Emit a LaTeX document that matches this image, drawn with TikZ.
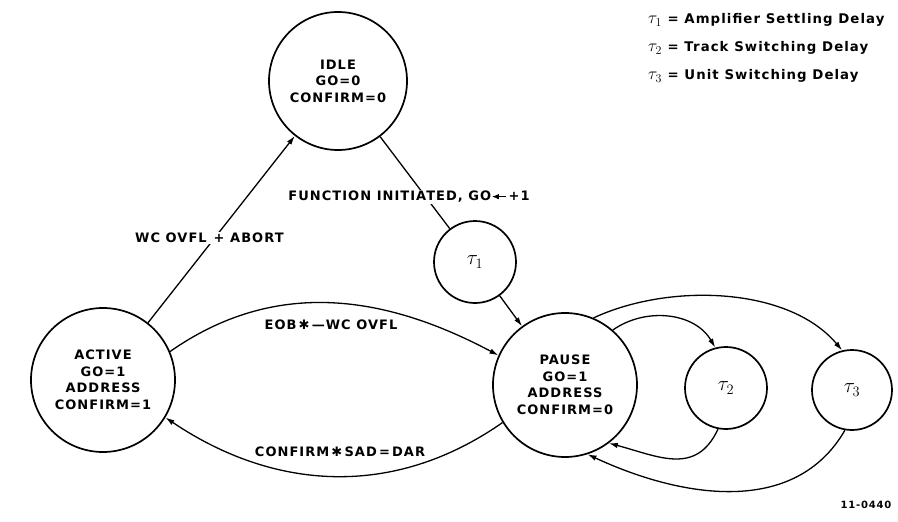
\documentclass[tikz,border=0pt]{standalone}
\usepackage{fontspec}
\usetikzlibrary{arrows.meta}
\newfontfamily\lettering{DejaVu Sans}[LetterSpace=8]
\newfontfamily\symfont{DejaVu Sans}
\newcommand\delaysym[1]{{\fontsize{17}{17}\selectfont$\tau_{#1}$}}

\tikzset{
  stnode/.style={circle, draw, line width=1.7pt, minimum size=#1, inner sep=0pt,
    align=center, font=\lettering\bfseries\fontsize{13}{16.5}\selectfont},
  delaynode/.style={circle, draw, line width=1.7pt, minimum size=82pt, inner sep=0pt,
    font=\fontsize{22}{24}\selectfont},
  link/.style={line width=1.3pt, -{Latex[length=9pt,width=5.5pt]}},
  bare/.style={line width=1.3pt},
  lbl/.style={font=\lettering\bfseries\fontsize{13}{15}\selectfont, inner sep=1pt},
  legend/.style={anchor=west, inner sep=0pt, font=\lettering\bfseries\fontsize{13.3}{15}\selectfont},
}

\begin{document}
\begin{tikzpicture}[x=1pt, y=1pt]
\useasboundingbox (0,0) rectangle (898,-522);

% states
\node[stnode=138pt] (idle)   at (338,-81)  {IDLE\\GO=0\\CONFIRM=0};
\node[stnode=144pt] (active) at (103,-380) {ACTIVE\\GO=1\\ADDRESS\\CONFIRM=1};
\node[stnode=144pt] (pause)  at (565,-385) {PAUSE\\GO=1\\ADDRESS\\CONFIRM=0};

% delays
\node[delaynode] (t1) at (475,-262) {$\tau_1$};
\node[delaynode] (t2) at (726,-388) {$\tau_2$};
\node[delaynode, minimum size=80pt] (t3) at (852,-390) {$\tau_3$};

% transitions
\draw[link] (active) -- (idle);
\draw[bare] (idle) -- (t1);
\draw[link] (t1) -- (pause);
\draw[link] (active.23) to[out=35, in=152] (pause.156);
\draw[link] (pause.211) to[out=215, in=-34] (active.329);
\draw[link] (pause.49) to[out=35, in=120] (t2.105);
\draw[link] (t2.259) to[out=245, in=-15, looseness=1.2] (pause.307);
\draw[link] (pause.67) to[out=25, in=130, looseness=0.85] (t3.104);
\draw[link] (t3.260) to[out=240, in=-25] (pause.288);

% transition labels (white boxes break the lines that run through them)
\node[lbl, fill=white, anchor=west] (lwc) at (134,-238) {WC OVFL\hspace{7pt}+ ABORT};
\node[lbl, fill=white] (lfn) at (409,-197)
  {FUNCTION INITIATED, GO\tikz[baseline=-0.6ex]\draw[line width=1.2pt,{Latex[length=7pt,width=5.5pt]}-] (0,0) -- (14pt,0);\,+1};
\node[lbl] (leob) at (331,-325) {EOB\,{\symfont ✱}\,—WC OVFL};
\node[lbl] (lcf)  at (340,-452) {CONFIRM\,{\symfont ✱}\,SAD\,=\,DAR};

% legend
\node[legend] (k1) at (648,-20) {\delaysym{1} = Amplifier Settling Delay};
\node[legend] (k2) at (648,-48) {\delaysym{2} = Track Switching Delay};
\node[legend] (k3) at (648,-76) {\delaysym{3} = Unit Switching Delay};

\node[font=\lettering\bfseries\fontsize{10}{11}\selectfont] (fig) at (866,-505) {11-0440};
\end{tikzpicture}
\end{document}
